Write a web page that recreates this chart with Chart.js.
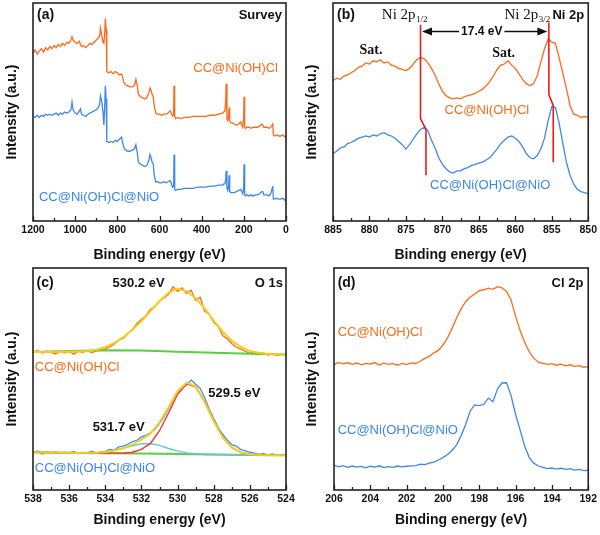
<!DOCTYPE html>
<html><head><meta charset="utf-8">
<script src="https://cdn.jsdelivr.net/npm/chart.js@4.4.1/dist/chart.umd.min.js"></script>
<style>
html,body{margin:0;padding:0;background:#fff;}
body{width:600px;height:535px;position:relative;overflow:hidden;}
.panel{position:absolute;}
canvas{display:block;}
</style></head><body>
<div class="panel" style="left:0;top:0"><canvas id="cA" width="300" height="268"></canvas></div>
<div class="panel" style="left:300px;top:0"><canvas id="cB" width="300" height="268"></canvas></div>
<div class="panel" style="left:0;top:265px"><canvas id="cC" width="300" height="270"></canvas></div>
<div class="panel" style="left:300px;top:265px"><canvas id="cD" width="300" height="270"></canvas></div>
<script>
// ---------- (a) Survey ----------
const surveyE = [
 1200,1190,1180,1170,1160,1150,1140,1130,1120,1110,
 1100,1090,1080,1070,1060,1050,1040,1030,1020,1015,
 1010,1000,990,980,975,970,960,950,940,930,
 920,910,900,890,884,880,874,868,864,860,
 857,853,850,840,830,820,810,800,790,780,
 775,770,765,760,750,740,730,720,712,705,
 700,690,680,670,660,650,645,640,635,630,
 625,618,610,600,590,580,570,560,550,545,
 538,533,531,528,524,515,500,480,460,440,
 420,400,380,360,340,320,300,295,290,286,
 284,280,276,272,270,267,262,255,245,235,
 225,215,210,205,201,199,196,192,185,175,
 165,155,145,135,125,115,110,105,100,90,
 80,72,66,63,60,55,45,35,25,15,
 5,0];
const surveyOrange = [
 77,78.5,76.5,78,79,77.5,79.5,78.5,80,79,
 80.5,79.5,81,80,81.5,80.5,82,81.5,83,84.5,
 83,82,81.5,82.5,81,80,80.5,79.5,80.5,81.5,
 81,82,83,84,85,88.5,85,82,81.5,86,
 93,88,68.5,68,68.5,67.5,68.5,68,67,67.5,
 66,64,63,62.5,62,61.5,61.5,62,65,62,
 58,57,56.5,56,56.5,59,61,60,58,57,
 53,49.5,49,49,48.5,49,49,49.5,50.5,49.5,
 48,49,62,48,47,47.5,47,47.5,47.5,48,
 48,48,48,48.5,48.5,49,49.5,50,50.5,55,
 63,47,46,48,52,46,45,45,44.5,44,
 44.5,45.5,44,43,47,57,43,42.5,43,43,
 42.5,43,43,43,43.5,44.5,44,43,43,43,
 42.5,43,44,45,39.5,39,39.5,39,39,39.5,
 38.5,39];
const surveyBlue = [
 48,47.5,48.5,47.5,48.5,48,49,48.5,49,48.5,
 49,49.5,48.5,49.5,49,50,49.5,50,51,54.5,
 51,49.5,49,50.5,51.5,49,48.5,48,49,49.5,
 50,50.5,51,52,53.5,57.5,55,50,44,52,
 62,56,36.5,36,36.5,36,37,36.5,37.5,38.5,
 36,34,33,32.5,32,32,32.5,33,35,31,
 27,26,25.5,25,25.5,28,30.5,29,27,26.5,
 21,18,18,17.5,17.5,18,17.5,18,18.5,17.5,
 15.5,16,30.5,14.5,14,14.5,14.5,15,15,15,
 15.5,15.5,15.5,16,16,16.5,16.5,17,17,19,
 23,15,14,16,21,13.5,13,13,13,13.5,
 14,14.5,13.5,12.5,15,26,12,11.5,12,11.5,
 12,11.5,12,12,12.5,13.5,13.5,12,12,12,
 11.5,12.5,15,16,10,10,10.5,10,10,10.5,
 9.5,10];

// ---------- (b) Ni 2p ----------
const niE = [
 885,884.5,884,883.5,883,882.5,882,881.5,881,880.5,
 880,879.5,879,878.5,878,877.5,877,876.5,876,875.5,
 875,874.5,874,873.5,873,872.5,872,871.5,871,870.5,
 870,869.5,869,868.5,868,867.5,867,866.5,866,865.5,
 865,864.5,864,863.5,863,862.5,862,861.5,861,860.5,
 860,859.5,859,858.5,858,857.5,857,856.5,856,855.5,
 855,854.5,854,853.5,853,852.5,852,851.5,851,850.5,
 850];
const niOrange = [
 64.5,65.5,65,66.5,67,68,69,70.5,71,72.5,
 72,73.5,73,74,72.5,73,71.5,71,70,69.5,
 69,70,72,74,75,74.5,72.5,70,67,63,
 59.5,57.5,56.5,56,56.5,56,57,57.5,58,58.5,
 59.5,60.5,62,64,66.5,69.5,71.5,72,73.5,71.5,
 70,67.5,65,63,62,63,66.5,73,79,83.5,
 82,81.5,75,68,61,53,49,48.5,47.5,48,
 47.5];
const niBlue = [
 31,32,33.5,34,35.5,36,37,38,38.5,39,
 38.5,39.5,39,40,40.5,39.5,39,38,36.5,35,
 33,35,37.5,40,42,43,41.5,37,33.5,29,
 26,24,22.5,22,23,23,24,24.5,25.5,26,
 26.5,27,28,29,31,33,35.5,37,38.5,39,
 38,36.5,34,31,29,28.5,30,33,38,46,
 52.5,52,45,36,27,21,17,14.5,13.5,13,
 12.5];
const markLeftE = [873, 873, 872.25, 872.25];
const markLeftV = [90, 47, 42, 21];
const markRightE = [855.4, 855.4, 854.8, 854.8];
const markRightV = [91, 58, 53, 27];

// ---------- (c) O 1s ----------
const oE = [
 538,537.75,537.5,537.25,537,536.75,536.5,536.25,536,535.75,
 535.5,535.25,535,534.75,534.5,534.25,534,533.75,533.5,533.25,
 533,532.75,532.5,532.25,532,531.75,531.5,531.25,531,530.75,
 530.5,530.25,530,529.75,529.5,529.25,529,528.75,528.5,528.25,
 528,527.75,527.5,527.25,527,526.75,526.5,526.25,526,525.75,
 525.5,525.25,525,524.75,524.5,524.25,524];
const oOrange = [
 62,62.8,61.7,62.5,62,61.3,62.6,61.8,62.4,61.2,
 62.5,62,62.8,61.9,62.6,63.2,63.6,64.5,65.8,67.5,
 68.4,70.5,72.3,75,76.8,78.5,81.4,82.5,85.3,86.5,
 88.2,91.5,89.5,91,88.6,90,85.5,86.8,80.5,79.2,
 75.5,73.8,69.5,68.2,66,64.3,63.5,62.4,61.6,62.2,
 61,61.7,60.8,61.5,60.6,61.2,60.9];
const oBlue = [
 16.8,17.6,16.2,17.1,16.5,17.3,16.4,17.0,16.6,17.4,
 16.3,16.9,16.7,17.5,16.6,17.2,17.4,18.3,18.0,19.4,
 19.8,20.6,21.8,22.4,23.9,24.6,25.8,27.4,30,33,
 36.5,40.2,44,45.8,47.4,49.5,47.6,45.8,41.5,36.5,
 32.2,28.1,25,22.5,20.4,19.8,18.2,17.6,17.0,16.6,
 16.0,16.4,15.8,16.2,15.6,16.0,15.7];
const oFitE = [538,537.5,537,536.5,536,535.5,535,534.5,534,533.5,533,532.5,532,531.5,531,530.5,530,529.5,529,528.5,528,527.5,527,526.5,526,525.5,525,524.5,524];
const oFitOrange = [62.2,62.2,62.2,62.3,62.3,62.4,62.6,63.2,64.4,66.3,68.9,72.2,76,80.6,85,88.8,90.7,89.5,86.4,81.8,76.3,71.3,67.3,64.4,62.6,61.8,61.3,61.1,61];
const oFitBlue = [17.0,16.9,16.9,16.8,16.8,16.7,16.75,16.8,17.1,17.8,18.8,20.4,22.7,25.5,30.5,37.2,44.5,48.4,46.7,39.75,31.1,23.7,19.2,16.9,16.1,15.8,15.7,15.7,15.6];
const oPeak529 = [17.0,16.9,16.9,16.8,16.8,16.7,16.7,16.6,16.6,16.6,16.6,17.0,18.3,21.0,26.7,34.7,43.1,47.8,46.5,39.7,31.1,23.7,19.2,16.9,16.1,15.8,15.7,15.7,15.6];
const oPeak531 = [17.0,16.9,16.9,16.8,16.8,16.7,16.75,16.8,17.1,17.8,18.8,19.9,20.8,20.8,20.1,18.7,17.6,16.7,16.3,16.0,16.0,15.9,15.9,15.9,15.8,15.8,15.7,15.7,15.6];
const oBgE = [538,536,534,532,530,528,526,524];
const oBgOrange = [62.2,62.6,63.0,62.8,62.3,61.8,61.4,61.0];
const oBgBlue = [17.0,16.8,16.6,16.4,16.2,16.0,15.8,15.6];

// ---------- (d) Cl 2p ----------
const clE = [
 206,205.75,205.5,205.25,205,204.75,204.5,204.25,204,203.75,
 203.5,203.25,203,202.75,202.5,202.25,202,201.75,201.5,201.25,
 201,200.75,200.5,200.25,200,199.75,199.5,199.25,199,198.75,
 198.5,198.25,198,197.75,197.5,197.25,197,196.75,196.5,196.25,
 196,195.75,195.5,195.25,195,194.75,194.5,194.25,194,193.75,
 193.5,193.25,193,192.75,192.5,192.25,192];
const clOrange = [
 56.5,57.5,56.8,57.3,56.6,57.2,56.4,57.0,56.7,57.4,
 56.3,57.1,56.6,56.9,56.2,57.0,56.5,57.3,57.0,58.0,
 59.3,60.2,61.8,62.9,65.3,68.5,72.8,77.5,81.6,84.8,
 86.9,88.3,89.8,90.2,90.9,90.4,91.6,91.1,89.4,85.6,
 78.2,71.8,66.4,62.3,59.4,57.6,57.0,56.6,56.9,56.2,
 56.7,55.9,56.4,55.7,56.0,55.3,55.6];
const clBlue = [
 11.2,10.4,11.0,10.2,10.8,10.3,10.6,10.0,10.7,10.3,
 10.9,10.1,10.5,10.2,10.8,10.4,10.7,10.9,11.0,11.6,
 11.4,12.1,12.6,13.5,14.6,16.0,17.8,20.3,24.5,29.5,
 35.6,38.3,38.0,38.6,41.4,39.8,45.5,48.2,48.3,42.5,
 34,27,19.8,14.6,12.1,10.8,10.2,9.6,9.9,9.4,
 9.8,9.3,9.6,9.0,9.3,8.7,8.9];

const sampleA = 'CC@Ni(OH)Cl';
const sampleB = 'CC@Ni(OH)Cl@NiO';

// ---------- styling ----------
const SANS = "'Liberation Sans', Arial, sans-serif";
const SERIF = "'Liberation Serif', 'Times New Roman', serif";
Chart.defaults.font.family = SANS;
const ORANGE = '#ff6a1a', BLUE = '#3f88e8', LBLUE = '#3b8ff0';
const TXT_OR = '#ff6a13', TXT_BL = '#3a86f2';
const INK = '#111';

function pts(xs, ys){ return xs.map((x,i)=>({x:x, y:ys[i]})); }
function series(xs, ys, color, w){
  return {data:pts(xs,ys), borderColor:color, borderWidth:w, pointRadius:0, fill:false, tension:0};
}

function framePlugin(major, minor){
  return {id:'frame', afterDatasetsDraw(chart){
    const ctx = chart.ctx, a = chart.chartArea, xs = chart.scales.x;
    ctx.save();
    ctx.strokeStyle = '#222'; ctx.lineWidth = 1.6;
    ctx.strokeRect(a.left, a.top, a.right-a.left, a.bottom-a.top);
    const mn = xs.min, mx = xs.max;
    const n = Math.round((mx-mn)/minor);
    ctx.lineWidth = 1.3;
    ctx.beginPath();
    for(let i=0;i<=n;i++){
      const v = mn + i*minor;
      const r = (v-mn)/major;
      const isMajor = Math.abs(r-Math.round(r))<1e-6;
      const px = Math.round(xs.getPixelForValue(v))+0.5;
      ctx.moveTo(px, a.bottom);
      ctx.lineTo(px, a.bottom-(isMajor?5:3));
    }
    ctx.stroke();
    ctx.restore();
  }};
}

function notesPlugin(items, arrow){
  return {id:'notes', afterDatasetsDraw(chart){
    const ctx = chart.ctx, xs = chart.scales.x, ys = chart.scales.y;
    ctx.save();
    ctx.textBaseline = 'middle';
    items.forEach(n=>{
      const px = xs.getPixelForValue(n.x), py = ys.getPixelForValue(n.y);
      ctx.font = n.font; ctx.fillStyle = n.color || INK; ctx.textAlign = n.align || 'left';
      ctx.fillText(n.t, px, py);
      if(n.sub){
        const w = ctx.measureText(n.t).width;
        ctx.font = n.subFont; ctx.textAlign = 'left';
        ctx.fillText(n.sub, px + w + 0.5, py + 5);
      }
    });
    if(arrow){
      const y = Math.round(ys.getPixelForValue(arrow.y))+0.5;
      const x1 = xs.getPixelForValue(arrow.from), x2 = xs.getPixelForValue(arrow.to);
      const xm = xs.getPixelForValue(arrow.mid);
      ctx.font = arrow.font;
      const tw = ctx.measureText(arrow.t).width;
      ctx.fillStyle = INK; ctx.textAlign = 'center';
      ctx.fillText(arrow.t, xm, y);
      ctx.strokeStyle = INK; ctx.lineWidth = 1.6;
      ctx.beginPath();
      ctx.moveTo(x1+6, y); ctx.lineTo(xm-tw/2-2, y);
      ctx.moveTo(xm+tw/2+2, y); ctx.lineTo(x2-6, y);
      ctx.stroke();
      ctx.beginPath(); ctx.moveTo(x1, y); ctx.lineTo(x1+10, y-4); ctx.lineTo(x1+10, y+4); ctx.closePath(); ctx.fill();
      ctx.beginPath(); ctx.moveTo(x2, y); ctx.lineTo(x2-10, y-4); ctx.lineTo(x2-10, y+4); ctx.closePath(); ctx.fill();
    }
    ctx.restore();
  }};
}

function makeChart(id, o){
  return new Chart(document.getElementById(id), {
    type:'line',
    data:{datasets:o.datasets},
    options:{
      responsive:false, animation:false, devicePixelRatio:1,
      layout:{padding:{top:3, right:o.padRight, left:0, bottom:0}},
      plugins:{legend:{display:false}, tooltip:{enabled:false}},
      scales:{
        x:{type:'linear', reverse:true, min:o.min, max:o.max,
          ticks:{stepSize:o.step, autoSkip:false, maxRotation:0, minRotation:0, padding:3,
                 color:INK, font:{size:10.5, weight:'bold'}, callback:(v)=>String(v)},
          grid:{display:false, drawTicks:false}, border:{display:false},
          title:{display:true, text:'Binding energy (eV)', color:INK, font:{size:14, weight:'bold'},
                 padding:{top:0, bottom:o.titlePad}},
          afterFit(s){ s.height = o.xH; }},
        y:{min:0, max:100,
          ticks:{display:false}, grid:{display:false, drawTicks:false}, border:{display:false},
          title:{display:true, text:'Intensity (a.u.)', color:INK, font:{size:14, weight:'bold'},
                 padding:{top:4, bottom:0}},
          afterFit(s){ s.width = o.yW; }}
      }
    },
    plugins:[framePlugin(o.major, o.minor), notesPlugin(o.notes, o.arrow)]
  });
}

const B13 = 'bold 13px ' + SANS, B14 = 'bold 14px ' + SANS, R13 = '13px ' + SANS;

// (a)
makeChart('cA', {
  min:0, max:1200, step:200, major:200, minor:100,
  padRight:14, yW:33, xH:47, titlePad:4.6,
  datasets:[
    series(surveyE, surveyOrange, ORANGE, 1.3),
    series(surveyE, surveyBlue, BLUE, 1.3)
  ],
  notes:[
    {t:'(a)', x:1181, y:94.5, font:B14},
    {t:'Survey', x:19, y:94.5, font:B13, align:'right'},
    {t:sampleA, x:38, y:70.2, font:R13, color:TXT_OR, align:'right'},
    {t:sampleB, x:1172, y:11, font:R13, color:TXT_BL}
  ]
});

// (b)
makeChart('cB', {
  min:850, max:885, step:5, major:5, minor:2.5,
  padRight:11, yW:33, xH:47, titlePad:4.6,
  datasets:[
    series(markLeftE, markLeftV, '#ee1a1a', 1.6),
    series(markRightE, markRightV, '#ee1a1a', 1.6),
    series(niE, niOrange, ORANGE, 1.3),
    series(niE, niBlue, BLUE, 1.3)
  ],
  notes:[
    {t:'(b)', x:884.45, y:94.5, font:B14},
    {t:'Ni 2p', x:878.3, y:94.5, font:'15px ' + SERIF, sub:'1/2', subFont:'9px ' + SERIF},
    {t:'Ni 2p', x:861.5, y:94.5, font:'15px ' + SERIF, sub:'3/2', subFont:'9px ' + SERIF},
    {t:'Ni 2p', x:850.55, y:94.5, font:B13, align:'right'},
    {t:'Sat.', x:879.8, y:78.4, font:'bold 14px ' + SERIF, align:'center'},
    {t:'Sat.', x:861.6, y:77, font:'bold 14px ' + SERIF, align:'center'},
    {t:sampleA, x:869.7, y:50.9, font:R13, color:TXT_OR},
    {t:sampleB, x:871.7, y:16.5, font:R13, color:TXT_BL}
  ],
  arrow:{t:'17.4 eV', y:87.2, from:872.8, to:855.6, mid:864.6, font:'bold 12px ' + SANS}
});

// (c)
makeChart('cC', {
  min:524, max:538, step:2, major:2, minor:1,
  padRight:14, yW:33, xH:45, titlePad:6.6,
  datasets:[
    series(oFitE, oFitOrange, '#f5cf1a', 2),
    series(oFitE, oFitBlue, '#f5cf1a', 2),
    series(oFitE, oPeak529, '#ff3030', 1.4),
    series(oFitE, oPeak531, '#66c6d8', 1.4),
    series(oBgE, oBgOrange, '#58d040', 2),
    series(oBgE, oBgBlue, '#58d040', 2),
    series(oE, oOrange, ORANGE, 1.3),
    series(oE, oBlue, LBLUE, 1.3)
  ],
  notes:[
    {t:'(c)', x:537.8, y:93.2, font:B14},
    {t:'530.2 eV', x:533.6, y:93.2, font:B13},
    {t:'O 1s', x:524.17, y:93.2, font:B13, align:'right'},
    {t:sampleA, x:537.9, y:55.4, font:R13, color:TXT_OR},
    {t:'529.5 eV', x:528.3, y:43.7, font:B13},
    {t:'531.7 eV', x:534.7, y:28.4, font:B13},
    {t:sampleB, x:537.9, y:9.9, font:R13, color:TXT_BL}
  ]
});

// (d)
makeChart('cD', {
  min:192, max:206, step:2, major:2, minor:1,
  padRight:11, yW:34, xH:45, titlePad:6.6,
  datasets:[
    series(clE, clOrange, ORANGE, 1.3),
    series(clE, clBlue, BLUE, 1.3)
  ],
  notes:[
    {t:'(d)', x:205.8, y:93.2, font:B14},
    {t:'Cl 2p', x:192.27, y:93.2, font:B13, align:'right'},
    {t:sampleA, x:205.8, y:71.2, font:R13, color:TXT_OR},
    {t:sampleB, x:205.8, y:27, font:R13, color:TXT_BL}
  ]
});
</script>
</body></html>
